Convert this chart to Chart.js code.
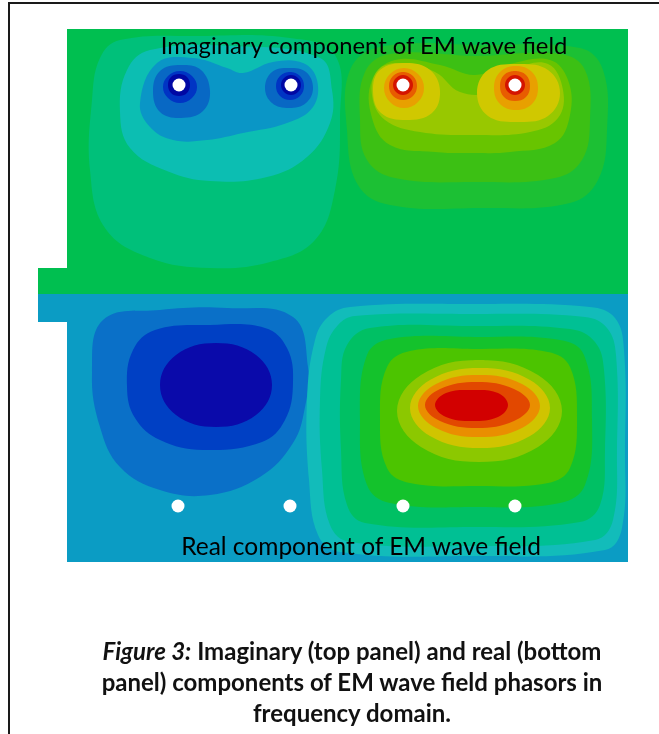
<!DOCTYPE html>
<html>
<head>
<meta charset="utf-8">
<script src="https://cdn.jsdelivr.net/npm/chart.js@4.4.1/dist/chart.umd.min.js"></script>
<style>
  html, body { margin: 0; padding: 0; background: #fff; width: 659px; height: 734px; overflow: hidden; }
  #frame { position: absolute; left: 8px; top: 2px; width: 720px; height: 800px;
           border-left: 2px solid #1a1a1a; border-top: 2px solid #1a1a1a; }
  #c { position: absolute; left: 0; top: 0; }
  .lbl { position: absolute; font-family: Lato, "Open Sans", sans-serif; color: #000;
         white-space: nowrap; transform: translate(-50%, -50%); }
  #caption { position: absolute; left: 52px; width: 600px; top: 635px; text-align: center;
             font-family: Lato, "Open Sans", sans-serif; font-weight: bold; font-size: 24px;
             line-height: 31px; color: #111; }
</style>
</head>
<body>
<div id="frame"></div>
<canvas id="c" width="659" height="734"></canvas>
<div class="lbl" style="left:364px; top:45px; font-size:23.8px;">Imaginary component of EM wave field</div>
<div class="lbl" style="left:361px; top:545px; font-size:24.5px;">Real component of EM wave field</div>
<div id="caption"><i>Figure 3:</i> Imaginary (top panel) and real (bottom<br>panel) components of EM wave field phasors in<br>frequency domain.</div>
<script>
// Model outline (x = horizontal distance, y = height), both panels share the grid
const topPanel    = [[0,533],[561,533],[561,268],[-29,268],[-29,294],[0,294]];
const bottomPanel = [[-29,268],[561,268],[561,0],[0,0],[0,240],[-29,240]];

// Imaginary component, negative lobe around the left source pair (outer -> inner)
const imNeg1 = [[53,522],[133,526],[223,524],[268,507],[273,442],[268,372],[248,322],[203,300],[143,294],[83,304],[38,334],[23,392],[25,462],[33,504]];
const imNeg2 = [[60,492],[83,512],[166,516],[253,504],[265,472],[263,439],[240,405],[200,385],[143,381],[100,391],[63,414],[53,450]];
const imNeg3 = [[73,459],[90,499],[126,504],[160,494],[176,489],[206,500],[236,499],[250,482],[246,455],[220,439],[176,429],[140,422],[106,422],[83,435]];
const imNeg4a = [[114,497],[134,492],[143,471],[136,451],[114,444],[93,450],[86,471],[93,491]];
const imNeg4b = [[222,494],[239,490],[246,474],[239,459],[222,454],[205,459],[198,474],[205,490]];
const imNeg5a = [[113,491],[125,486],[130,475],[125,464],[113,459],[101,464],[96,475],[101,486]];
const imNeg5b = [[223,490],[233,486],[237,476],[233,466],[223,462],[213,466],[209,476],[213,486]];
const imNeg6a = [[112,488],[120,485],[123,477],[120,469],[112,466],[104,469],[101,477],[104,485]];
const imNeg6b = [[224,487],[231,484],[234,477],[231,470],[224,467],[217,470],[214,477],[217,484]];

// Imaginary component, positive lobe around the right source pair
const imPos1 = [[313,515],[413,517],[513,514],[536,492],[540,432],[531,382],[503,359],[413,354],[323,357],[291,377],[280,432],[283,492]];
const imPos2 = [[323,508],[408,506],[493,508],[518,492],[523,442],[515,402],[488,384],[408,380],[328,384],[300,402],[293,442],[298,490]];
const imPos3 = [[328,502],[373,497],[408,487],[443,498],[483,502],[501,482],[503,447],[488,419],[443,410],[408,409],[368,410],[323,417],[305,444],[305,482]];
const imPos4 = [[333,499],[368,490],[393,470],[423,470],[448,492],[481,498],[496,472],[491,444],[463,430],[408,427],[353,430],[318,442],[305,467],[311,492]];
const imPos5a = [[339,499],[363,492],[373,471],[365,449],[339,442],[314,449],[306,471],[313,492]];
const imPos5b = [[451,498],[481,492],[493,469],[481,446],[451,440],[421,446],[410,469],[421,492]];
const imPos6a = [[337,494],[351,488],[357,474],[351,460],[337,454],[323,460],[317,474],[323,488]];
const imPos6b = [[449,496],[465,490],[471,474],[465,458],[449,452],[433,458],[427,474],[433,490]];
const imPos7a = [[336,490],[346,486],[350,476],[346,466],[336,462],[326,466],[322,476],[326,486]];
const imPos7b = [[448,491],[459,487],[463,476],[459,465],[448,461],[437,465],[433,476],[437,487]];
const imPos8a = [[336,487],[343,484],[346,477],[343,470],[336,467],[329,470],[326,477],[329,484]];
const imPos8b = [[448,487],[455,484],[458,477],[455,470],[448,467],[441,470],[438,477],[441,484]];

// Real component, negative lobe (left)
const reNeg1 = [[25,189],[36,242],[93,252],[160,254],[226,245],[241,195],[238,155],[226,119],[193,85],[143,67],[93,72],[53,95],[33,135]];
const reNeg2 = [[60,175],[66,212],[88,232],[143,237],[198,234],[220,214],[226,179],[218,142],[195,120],[136,112],[93,122],[68,144]];
const reNeg3 = [[149,219],[189,207],[205,177],[189,147],[149,135],[109,147],[93,177],[109,207]];

// Real component, positive lobe (right)
const rePos1 = [[283,255],[400,258],[523,255],[548,244],[557,212],[558,112],[555,34],[538,12],[400,6],[273,10],[251,27],[242,82],[240,162],[248,222],[261,245]];
const rePos2 = [[288,246],[400,248],[518,245],[540,234],[549,207],[550,112],[546,42],[528,22],[400,16],[283,20],[263,37],[255,92],[253,162],[259,214],[271,237]];
const rePos3 = [[303,234],[403,236],[503,233],[528,220],[537,192],[538,112],[533,57],[513,40],[403,35],[298,39],[280,57],[274,112],[274,182],[280,217]];
const rePos4 = [[323,223],[408,225],[493,222],[517,207],[525,142],[518,77],[493,59],[408,55],[323,59],[300,77],[293,142],[300,207]];
const rePos5 = [[343,211],[411,213],[481,210],[503,195],[510,144],[503,94],[481,79],[411,76],[343,79],[320,94],[313,144],[320,195]];
const rePos6 = [[412,202],[471,187],[495,151],[471,115],[412,100],[354,115],[330,151],[354,187]];
const rePos7 = [[413,194],[463,182],[483,154],[463,126],[413,114],[363,126],[343,154],[363,182]];
const rePos8 = [[412,187],[455,178],[473,156],[455,134],[412,125],[369,134],[351,156],[369,178]];
const rePos9 = [[410,180],[447,173],[463,157],[447,141],[410,134],[373,141],[358,157],[373,173]];
const rePos10 = [[405,172],[431,169],[441,157],[431,145],[405,141],[379,145],[368,157],[379,169]];

// Source / receiver positions
const sourcesTop    = [[112,477],[224,477],[336,477],[448,477]];
const sourcesBottom = [[111,56],[223,56],[336,56],[448,56]];

// Fill colours, drawn bottom to top
const layers = [
  [topPanel,    '#00BF50', 0],
  [bottomPanel, '#0B9CC4', 0],
  [imNeg1,  '#00C07A'], [imNeg2,  '#0CBEB2'], [imNeg3,  '#0A96C6'],
  [imNeg4a, '#0868C4'], [imNeg4b, '#0868C4'],
  [imNeg5a, '#0034C4'], [imNeg5b, '#0034C4'],
  [imNeg6a, '#0008A4'], [imNeg6b, '#0008A4'],
  [imPos1,  '#1CC034'], [imPos2,  '#3CC014'], [imPos3,  '#68C400'], [imPos4,  '#98C800'],
  [imPos5a, '#D0C800'], [imPos5b, '#D0C800'],
  [imPos6a, '#E8A000'], [imPos6b, '#E8A000'],
  [imPos7a, '#E85C00'], [imPos7b, '#E85C00'],
  [imPos8a, '#D41400'], [imPos8b, '#D41400'],
  [reNeg1, '#0A70C8'], [reNeg2, '#0040C4'], [reNeg3, '#0A0AAA'],
  [rePos1, '#12BCBA'], [rePos2, '#00C094'], [rePos3, '#00C064'], [rePos4, '#14C22C'],
  [rePos5, '#4CC400'], [rePos6, '#8CC800'], [rePos7, '#D0C400'], [rePos8, '#EA8E00'],
  [rePos9, '#E24800'], [rePos10, '#D20000']
];

// Closed outline: wrap the neighbours around so the spline stays smooth at the seam
const closedRing = pts => [pts[pts.length - 1], ...pts, pts[0], pts[1]].map(([x, y]) => ({ x, y }));

const datasets = layers.map(([poly, color, tension], i) => ({
  data: closedRing(poly),
  showLine: true,
  fill: 'shape',
  backgroundColor: color,
  borderColor: 'transparent',
  borderWidth: 0,
  pointRadius: 0,
  pointHoverRadius: 0,
  tension: tension === undefined ? 0.4 : tension,
  order: layers.length - i + 1
}));

datasets.push({
  data: sourcesTop.concat(sourcesBottom).map(([x, y]) => ({ x, y })),
  showLine: false,
  pointRadius: 6.5,
  pointBackgroundColor: '#ffffff',
  pointBorderWidth: 0,
  pointBorderColor: 'transparent',
  order: 0
});

new Chart(document.getElementById('c'), {
  type: 'line',
  data: { datasets },
  options: {
    responsive: false,
    animation: false,
    devicePixelRatio: 1,
    layout: { padding: { left: 38, top: 29, right: 31, bottom: 172 } },
    elements: { line: { capBezierPoints: false } },
    plugins: { legend: { display: false }, tooltip: { enabled: false } },
    scales: {
      x: { type: 'linear', min: -29, max: 561, display: false },
      y: { type: 'linear', min: 0, max: 533, display: false }
    }
  }
});
</script>
</body>
</html>
